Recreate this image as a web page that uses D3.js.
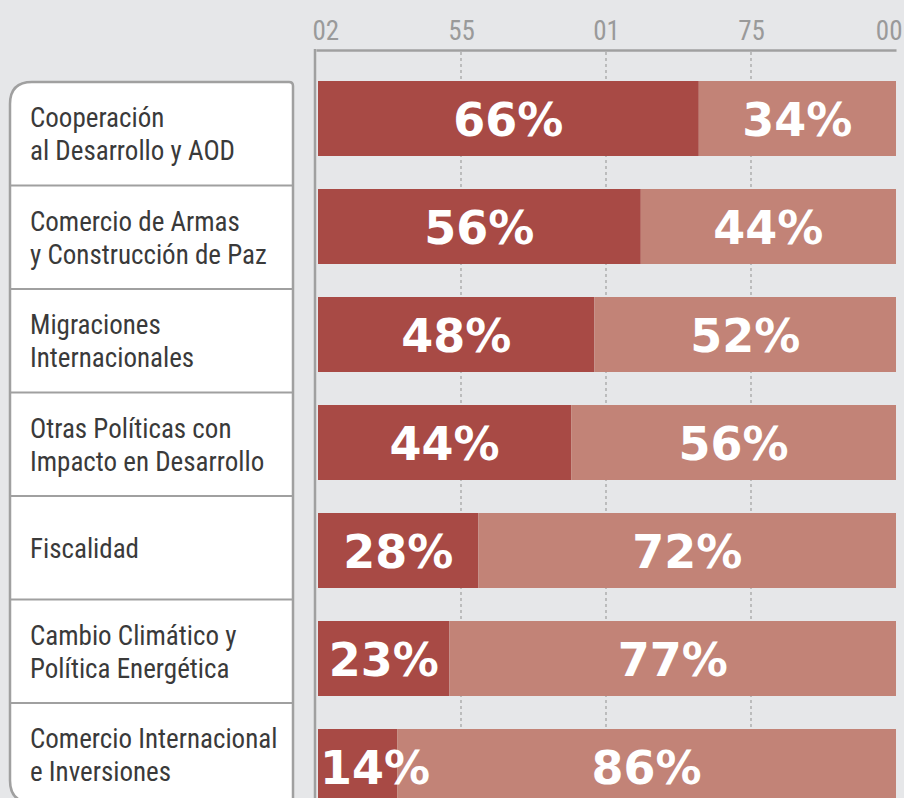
<!DOCTYPE html>
<html>
<head>
<meta charset="utf-8">
<script src="https://cdn.jsdelivr.net/npm/d3@7/dist/d3.min.js"></script>
<style>
  html, body { margin: 0; padding: 0; background: #e6e7e9; }
  svg { display: block; }
</style>
</head>
<body>
<svg id="chart" width="904" height="798"></svg>
<script>
// ---- DATA ----
const categories = [
  "Cooperación\nal Desarrollo y AOD",
  "Comercio de Armas\ny Construcción de Paz",
  "Migraciones\nInternacionales",
  "Otras Políticas con\nImpacto en Desarrollo",
  "Fiscalidad",
  "Cambio Climático y\nPolítica Energética",
  "Comercio Internacional\ne Inversiones"
];
const seriesA = [66, 56, 48, 44, 28, 23, 14];
const seriesB = [34, 44, 52, 56, 72, 77, 86];
const tickValues = [0, 25, 50, 75, 100];
const tickLabels = ["02", "55", "01", "75", "00"];

// ---- STYLE ----
const W = 904, H = 798;
const colA = "#a84a45", colB = "#c28377";
const gridCol = "#a0a0a0";
const labelFont = "'Liberation Sans Narrow', 'Roboto Condensed', 'DejaVu Sans Condensed', sans-serif";
const valueFont = "'DejaVu Sans', sans-serif";

const svg = d3.select("#chart");

const x = d3.scaleLinear().domain([0, 100]).range([316, 896]);
const y = d3.scaleBand().domain(d3.range(categories.length))
  .range([64.5, 820.5]).paddingInner(0.3056).paddingOuter(0.1528);
const rowY = d3.scaleBand().domain(d3.range(categories.length))
  .range([82, 82 + 103.5 * categories.length]).padding(0);

// grid lines (dashed)
svg.append("g").selectAll("line")
  .data(tickValues.filter(v => v > 0 && v < 100))
  .join("line")
  .attr("x1", d => x(d)).attr("x2", d => x(d))
  .attr("y1", 52).attr("y2", H)
  .attr("stroke", gridCol).attr("stroke-width", 1.2)
  .attr("stroke-dasharray", "3,3");

// top axis
const axis = d3.axisTop(x).tickValues(tickValues)
  .tickFormat((d, i) => tickLabels[i]).tickSize(0).tickPadding(10);
const gAxis = svg.append("g").attr("transform", "translate(0,50)").call(axis);
gAxis.select(".domain").attr("stroke", gridCol).attr("stroke-width", 2.5);
gAxis.selectAll("text")
  .attr("font-family", labelFont).attr("font-size", 27)
  .attr("fill", "#9a9a9a")
  .attr("text-anchor", (d, i) => i === 0 ? "start" : (i === tickValues.length - 1 ? "end" : "middle"))
  .attr("dx", (d, i) => i === 0 ? -4 : (i === tickValues.length - 1 ? 6 : 0));

// left vertical line
svg.append("line")
  .attr("x1", 315).attr("x2", 315).attr("y1", 49).attr("y2", H)
  .attr("stroke", gridCol).attr("stroke-width", 2.5);

// bars
const gBars = svg.append("g");
categories.forEach((c, i) => {
  gBars.append("rect")
    .attr("x", x(0) + 2).attr("y", y(i))
    .attr("width", x(seriesA[i]) - x(0) - 2).attr("height", y.bandwidth())
    .attr("fill", colA);
  gBars.append("rect")
    .attr("x", x(seriesA[i])).attr("y", y(i))
    .attr("width", x(seriesA[i] + seriesB[i]) - x(seriesA[i])).attr("height", y.bandwidth())
    .attr("fill", colB);
});

// value labels
function valueLabel(x0, x1, yc, v) {
  const t = gBars.append("text")
    .attr("font-family", valueFont).attr("font-weight", "bold")
    .attr("font-size", 46).attr("fill", "#fff")
    .attr("text-anchor", "middle")
    .attr("y", yc + 17)
    .text(v + "%");
  const w = t.node().getComputedTextLength();
  let cx = (x0 + x1) / 2;
  if (cx - w / 2 < x0 + 2) cx = x0 + 2 + w / 2;
  t.attr("x", cx);
}
categories.forEach((c, i) => {
  const yc = y(i) + y.bandwidth() / 2;
  valueLabel(x(0) + 2, x(seriesA[i]), yc, seriesA[i]);
  valueLabel(x(seriesA[i]), x(seriesA[i] + seriesB[i]), yc, seriesB[i]);
});

// label panel
const pL = 10, pR = 293, pT = rowY.range()[0], pB = rowY.range()[1] - 4;
const rBig = 22, rSm = 4;
const panelPath = `M${pL},${pT + rBig} Q${pL},${pT} ${pL + rBig},${pT}
  L${pR - rSm},${pT} Q${pR},${pT} ${pR},${pT + rSm}
  L${pR},${pB - rSm} Q${pR},${pB} ${pR - rSm},${pB}
  L${pL + rBig},${pB} Q${pL},${pB} ${pL},${pB - rBig} Z`;
svg.append("path").attr("d", panelPath)
  .attr("fill", "#fff").attr("stroke", gridCol).attr("stroke-width", 2.5);

const gRows = svg.append("g");
categories.forEach((c, i) => {
  if (i > 0) {
    gRows.append("line")
      .attr("x1", pL).attr("x2", pR)
      .attr("y1", rowY(i)).attr("y2", rowY(i))
      .attr("stroke", gridCol).attr("stroke-width", 2);
  }
  const lines = c.split("\n");
  const lh = 33;
  const yc = rowY(i) + rowY.bandwidth() / 2;
  const base = yc - (lines.length - 1) * lh / 2 + 10;
  const t = gRows.append("text")
    .attr("font-family", labelFont).attr("font-size", 27)
    .attr("fill", "#3a3a3a");
  lines.forEach((ln, j) => {
    t.append("tspan").attr("x", 30).attr("y", base + j * lh).text(ln);
  });
});
</script>
</body>
</html>
